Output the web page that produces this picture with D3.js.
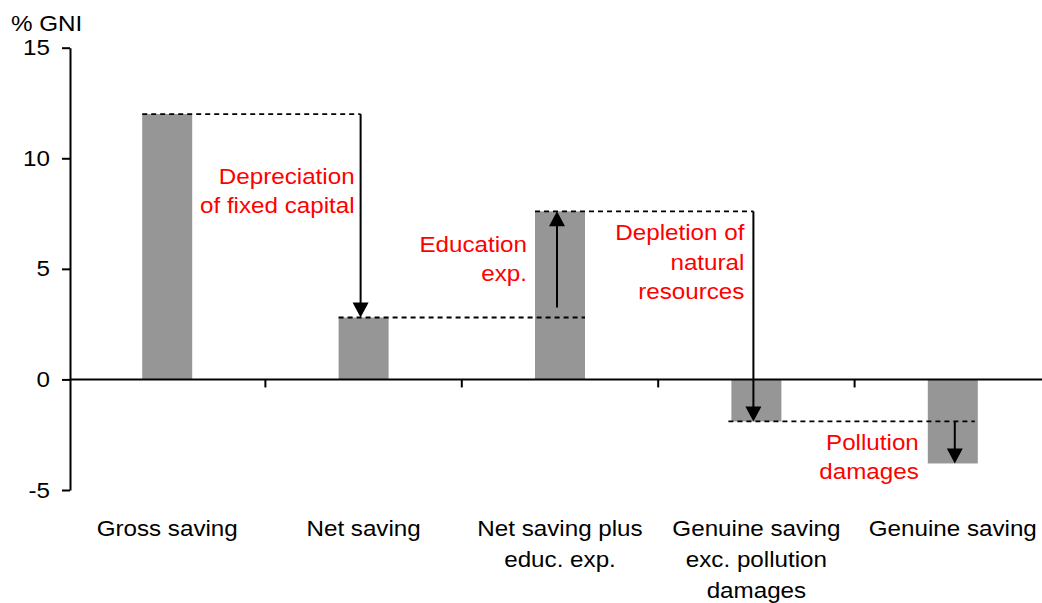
<!DOCTYPE html>
<html>
<head>
<meta charset="utf-8">
<script src="https://cdn.jsdelivr.net/npm/d3@7"></script>
<style>
  html, body { margin: 0; padding: 0; background: #fff; }
  svg { display: block; font-family: "Liberation Sans", Arial, sans-serif; }
</style>
</head>
<body>
<svg id="chart" width="1042" height="603"></svg>
<script>
// ---- data ----
const categories = ["Gross saving", "Net saving", "Net saving plus educ. exp.", "Genuine saving exc. pollution damages", "Genuine saving"];
const categoryLines = [["Gross saving"], ["Net saving"], ["Net saving plus", "educ. exp."], ["Genuine saving", "exc. pollution", "damages"], ["Genuine saving"]];
const values = [12, 2.8, 7.6, -1.9, -3.8];
const yTicks = [-5, 0, 5, 10, 15];
const yLabel = "% GNI";
const stepLabels = [["Depreciation", "of fixed capital"], ["Education", "exp."], ["Depletion of", "natural", "resources"], ["Pollution", "damages"]];
const stepLabelValues = [8.84, 5.77, 6.3, -3.19]; // vertical anchor of each red label (in % GNI)

// ---- layout ----
const W = 1042, H = 603;
const svg = d3.select("#chart");
const x = d3.scaleBand().domain(categories).range([69, 1051]).padding(0);
const y = d3.scaleLinear().domain([-5, 15]).range([490, 47.7]);
const barW = 50;
const FS = 22, SX = 1.1;
const cx = c => x(c) + x.bandwidth() / 2;

// bars
svg.append("g").selectAll("rect").data(values).join("rect")
  .attr("x", (d, i) => cx(categories[i]) - barW / 2)
  .attr("width", barW)
  .attr("y", d => y(Math.max(0, d)))
  .attr("height", d => Math.abs(y(d) - y(0)))
  .attr("fill", "#969696");

// y axis
const yAxis = svg.append("g").attr("transform", "translate(70,0)")
  .call(d3.axisLeft(y).tickValues(yTicks).tickSize(8).tickSizeOuter(0).tickPadding(12).tickFormat(d => String(d)));
yAxis.select(".domain").attr("stroke", "#000").attr("stroke-width", 2);
yAxis.selectAll(".tick line").attr("stroke", "#000").attr("stroke-width", 2);
yAxis.selectAll(".tick text").attr("font-size", FS).attr("fill", "#000")
  .attr("font-family", "Liberation Sans, Arial, sans-serif")
  .attr("transform", `scale(${SX},1)`).attr("x", -20 / SX);

// x axis line at zero
svg.append("line").attr("x1", 70).attr("x2", W).attr("y1", y(0)).attr("y2", y(0))
  .attr("stroke", "#000").attr("stroke-width", 2);
// category boundary ticks
svg.append("g").selectAll("line").data(categories.slice(1)).join("line")
  .attr("x1", d => x(d)).attr("x2", d => x(d))
  .attr("y1", y(0)).attr("y2", y(0) + 8)
  .attr("stroke", "#000").attr("stroke-width", 2);

// category labels
categoryLines.forEach((lines, i) => {
  lines.forEach((t, j) => {
    svg.append("text")
      .attr("transform", `translate(${cx(categories[i])},${536 + j * 31}) scale(${SX},1)`)
      .attr("text-anchor", "middle").attr("font-size", FS).attr("fill", "#000").text(t);
  });
});

// y label
svg.append("text").attr("transform", `translate(11,31) scale(${SX},1)`)
  .attr("font-size", FS).attr("fill", "#000").text(yLabel);

// ---- waterfall annotations ----
const arrowDx = [-3, -3, -3, 2];
const arrowX = i => cx(categories[i + 1]) + arrowDx[i];

// dashed connectors
const dashed = [
  { x1: cx(categories[0]) - barW / 2, x2: arrowX(0), v: values[0] },
  { x1: cx(categories[1]) - barW / 2, x2: cx(categories[2]) + barW / 2, v: values[1] },
  { x1: cx(categories[2]) - barW / 2, x2: arrowX(2), v: values[2] },
  { x1: cx(categories[3]) - barW / 2 - 3, x2: cx(categories[4]) + barW / 2 - 3, v: values[3] }
];
svg.append("g").selectAll("line").data(dashed).join("line")
  .attr("x1", d => d.x1).attr("x2", d => d.x2)
  .attr("y1", d => y(d.v)).attr("y2", d => y(d.v))
  .attr("stroke", "#000").attr("stroke-width", 1.8).attr("stroke-dasharray", "5,4");

// arrows
function arrow(xp, y1, y2) {
  const dir = y2 > y1 ? 1 : -1;
  const ah = 15, aw = 8;
  svg.append("line").attr("x1", xp).attr("x2", xp).attr("y1", y1).attr("y2", y2 - dir * ah + dir)
    .attr("stroke", "#000").attr("stroke-width", 2);
  svg.append("path")
    .attr("d", `M${xp},${y2} L${xp - aw},${y2 - dir * ah} L${xp + aw},${y2 - dir * ah} Z`)
    .attr("fill", "#000");
}
for (let i = 0; i < 4; i++) {
  let start = y(values[i]);
  if (i === 1) start = start - 10;
  arrow(arrowX(i), start, y(values[i + 1]));
}

// red labels
const labelDx = [-6, -30, -9, -36];
stepLabels.forEach((lines, i) => {
  lines.forEach((t, j) => {
    svg.append("text")
      .attr("transform", `translate(${arrowX(i) + labelDx[i]},${y(stepLabelValues[i]) + j * 29.5}) scale(${SX},1)`)
      .attr("text-anchor", "end").attr("font-size", FS).attr("fill", "#ff0000").text(t);
  });
});
</script>
</body>
</html>
